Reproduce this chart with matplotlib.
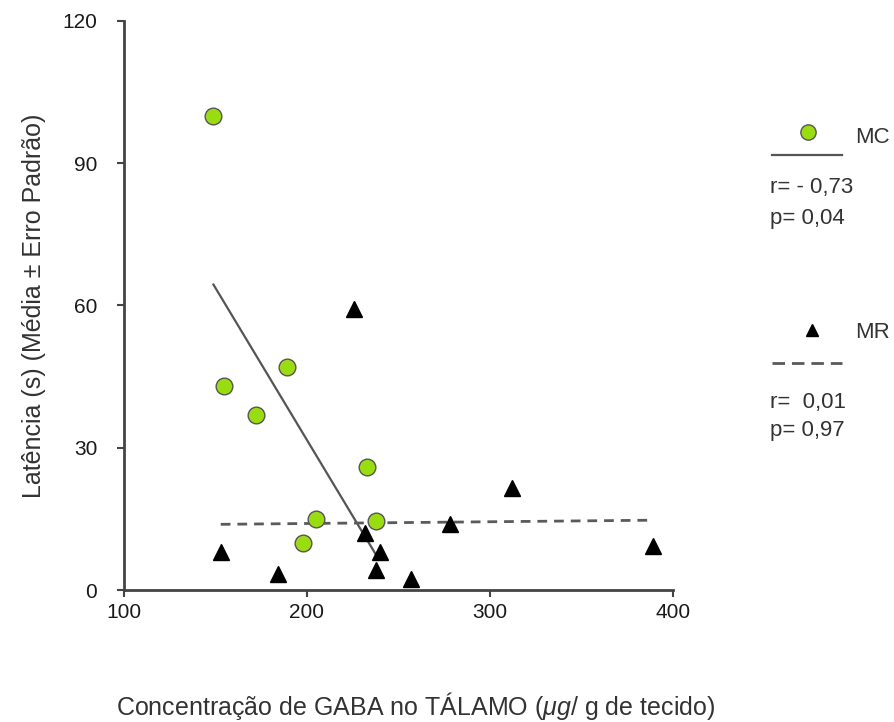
import numpy as np
import matplotlib
matplotlib.use("Agg")
import matplotlib.pyplot as plt
from matplotlib.lines import Line2D

# data
mc_x = [149, 155, 172, 189, 198, 205, 233, 238]
mc_y = [100, 43, 37, 47, 10, 15, 26, 14.5]
mr_x = [153, 184, 226, 232, 238, 240, 257, 278, 312, 389]
mr_y = [8, 3.4, 59.2, 12, 4.3, 8, 2.3, 14, 21.6, 9.3]
mc_stats = ["r= - 0,73", "p= 0,04"]
mr_stats = ["r=  0,01", "p= 0,97"]
x_ticks = [100, 200, 300, 400]
y_ticks = [0, 30, 60, 90, 120]

plt.rcParams["font.family"] = ["Liberation Sans", "DejaVu Sans"]
plt.rcParams["mathtext.fontset"] = "custom"
plt.rcParams["mathtext.it"] = "Liberation Sans:italic"
plt.rcParams["mathtext.rm"] = "Liberation Sans"

green = "#99dd11"
axcol = "#444444"
txtcol = "#333333"
dash = (0, (3.5, 2.5))

fig = plt.figure(figsize=(8.94, 7.22), dpi=100)
ax = fig.add_axes([0.1384, 0.1828, 0.6144, 0.7884])

# regression lines
for xs, ys, ls, col, lw in [(mc_x, mc_y, "-", "#555555", 1.6), (mr_x, mr_y, dash, "#5a5a5a", 2.0)]:
    k, b = np.polyfit(xs, ys, 1)
    xx = np.array([min(xs), max(xs)])
    ax.plot(xx, k * xx + b, ls=ls, color=col, lw=lw, zorder=2)

ax.plot(mr_x, mr_y, "^", color="black", ms=11, zorder=3, clip_on=False)
ax.plot(mc_x, mc_y, "o", mfc=green, mec="#555555", mew=1.0, ms=12, zorder=4, clip_on=False)

ax.set_xlim(100, 400)
ax.set_ylim(0, 120)
ax.set_xticks(x_ticks)
ax.set_yticks(y_ticks)
for s in ["top", "right"]:
    ax.spines[s].set_visible(False)
for s in ["left", "bottom"]:
    ax.spines[s].set_color(axcol)
    ax.spines[s].set_linewidth(2)
ax.tick_params(axis="both", colors=axcol, width=1.5, length=5, labelsize=15, labelcolor="#1a1a1a")
ax.tick_params(axis="y", pad=14)
ax.tick_params(axis="x", pad=4)

ax.set_ylabel("Latência (s) (Média ± Erro Padrão)", fontsize=18, color=txtcol)
ax.yaxis.set_label_coords(-0.163, 0.5)
ax.yaxis.label.set_va("center")
ax.set_xlabel(r"Concentração de GABA no TÁLAMO ($\mathit{\mu g}$/ g de tecido)",
              fontsize=18, color=txtcol)
ax.xaxis.set_label_coords(0.532, -0.204)
ax.xaxis.label.set_va("center")

# legend block on the right
lx0, lx1 = 0.8635, 0.942
fig.add_artist(Line2D([0.904], [0.817], marker="o", ls="none", mfc=green, mec="#555555",
                      mew=1.0, ms=11, transform=fig.transFigure))
fig.add_artist(Line2D([lx0, lx1], [0.785, 0.785], color="#555555", lw=1.6, transform=fig.transFigure))
fig.text(0.956, 0.809, "MC", fontsize=16, color=txtcol, va="center")
fig.text(0.861, 0.740, mc_stats[0], fontsize=16, color=txtcol, va="center")
fig.text(0.861, 0.698, mc_stats[1], fontsize=16, color=txtcol, va="center")

fig.add_artist(Line2D([0.908], [0.543], marker="^", ls="none", color="black", ms=8,
                      transform=fig.transFigure))
fig.add_artist(Line2D([lx0, lx1], [0.497, 0.497], color="#5a5a5a", lw=2.0, ls=(0, (4.5, 2.5)),
                      transform=fig.transFigure))
fig.text(0.956, 0.539, "MR", fontsize=16, color=txtcol, va="center")
fig.text(0.861, 0.442, mr_stats[0], fontsize=16, color=txtcol, va="center")
fig.text(0.861, 0.404, mr_stats[1], fontsize=16, color=txtcol, va="center")

fig.savefig("out.png", dpi=100, facecolor="white")
